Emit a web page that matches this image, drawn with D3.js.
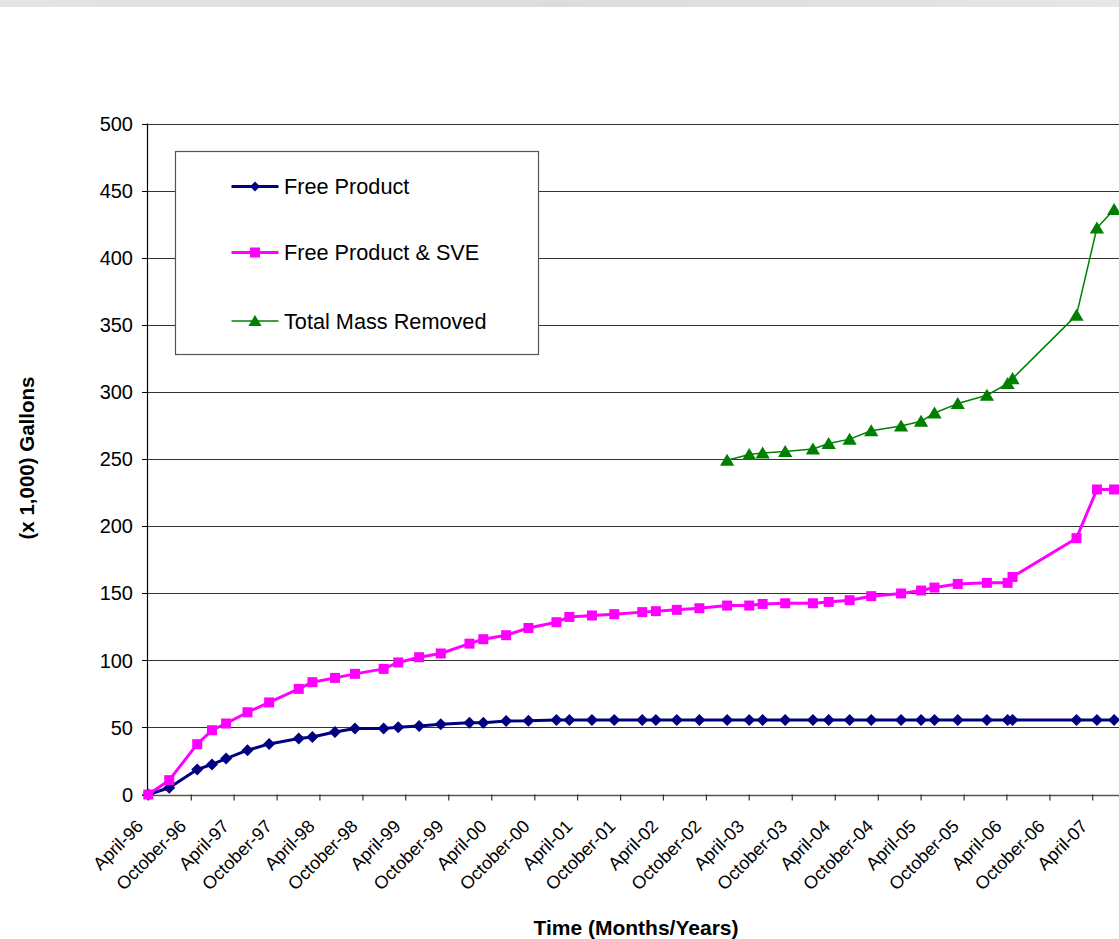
<!DOCTYPE html>
<html>
<head>
<meta charset="utf-8">
<script src="https://cdn.jsdelivr.net/npm/d3@7"></script>
<style>
  html, body { margin: 0; padding: 0; background: #ffffff; }
  svg { display: block; font-family: "Liberation Sans", Arial, sans-serif; }
</style>
</head>
<body>
<svg id="chart" width="1119" height="939"></svg>
<script>
// ---- data ----
const dates = [
  "1996-04-01","1996-06-29","1996-10-26","1996-12-28","1997-02-26","1997-05-28","1997-08-28",
  "1998-01-01","1998-02-28","1998-06-04","1998-08-28","1998-12-28","1999-02-28","1999-05-28",
  "1999-08-28","1999-12-28","2000-02-25","2000-06-01","2000-09-04","2001-01-01","2001-02-25",
  "2001-06-01","2001-09-04","2002-01-01","2002-02-28","2002-05-28","2002-09-01","2002-12-28",
  "2003-04-01","2003-05-28","2003-09-01","2003-12-28","2004-03-04","2004-06-01","2004-09-01",
  "2005-01-06","2005-04-01","2005-05-28","2005-09-04","2006-01-06","2006-04-04","2006-04-25",
  "2007-01-22","2007-04-19","2007-07-01"
];
const freeProduct = [
  0, 5, 18.6, 22.4, 26.8, 33, 37.7, 41.7, 42.9, 46.6, 49.2, 49.2, 50.1, 51.1, 52.4, 53.4,
  53.4, 54.8, 54.9, 55.6, 55.6, 55.6, 55.6, 55.6, 55.6, 55.6, 55.6, 55.6, 55.6, 55.6, 55.6,
  55.6, 55.6, 55.6, 55.6, 55.6, 55.6, 55.6, 55.6, 55.6, 55.6, 55.6, 55.6, 55.6, 55.6
];
const freeProductSVE = [
  0, 10.7, 37.5, 47.9, 52.9, 61.3, 68.6, 78.7, 83.7, 86.9, 89.9, 93.6, 98.4, 102.3, 105.1,
  112.4, 115.7, 118.7, 124.1, 128.4, 132.3, 133.4, 134.4, 135.9, 136.6, 137.6, 138.8, 140.8,
  140.8, 142, 142.5, 142.5, 143.5, 144.8, 147.8, 149.8, 152, 154.2, 156.9, 157.7, 157.7,
  162.1, 191, 227.3, 227.3
];
const totalMassRemoved = [
  null, null, null, null, null, null, null, null, null, null, null, null, null, null, null,
  null, null, null, null, null, null, null, null, null, null, null, null,
  249.1, 253.4, 254.5, 255.6, 257.5, 261.5, 264.8, 271, 274.6, 278.1, 284.3, 291.3, 297.5,
  306.2, 309.9, 357.2, 422.2, 435.9
];
const seriesNames = ["Free Product", "Free Product & SVE", "Total Mass Removed"];
const tickLabels = [
  "April-96","October-96","April-97","October-97","April-98","October-98","April-99",
  "October-99","April-00","October-00","April-01","October-01","April-02","October-02",
  "April-03","October-03","April-04","October-04","April-05","October-05","April-06",
  "October-06","April-07"
];
const yTicks = [0, 50, 100, 150, 200, 250, 300, 350, 400, 450, 500];

// ---- setup ----
const svg = d3.select("#chart");
const W = 1119, H = 939;
const parse = d3.timeParse("%Y-%m-%d");
const dateObjs = dates.map(parse);
const start = parse("1996-04-01");
const tickDates = tickLabels.map((_, i) => d3.timeMonth.offset(start, 6 * i));

const x = d3.scaleTime()
  .domain([start, tickDates[tickDates.length - 1]])
  .range([148.3, 1092.7]);
const y = d3.scaleLinear().domain([0, 500]).range([794.5, 123.5]);
const plotLeft = 148, plotRight = 1140;

// top decorative strip
const grad = svg.append("defs").append("linearGradient")
  .attr("id", "strip").attr("x1", 0).attr("x2", 1).attr("y1", 0).attr("y2", 0);
grad.append("stop").attr("offset", "0%").attr("stop-color", "#e4e4e6");
grad.append("stop").attr("offset", "50%").attr("stop-color", "#dcdcde");
grad.append("stop").attr("offset", "100%").attr("stop-color", "#e6e6e8");
svg.append("rect").attr("x", 0).attr("y", 0).attr("width", W).attr("height", 7)
  .attr("fill", "url(#strip)");

// gridlines
svg.append("g").selectAll("line")
  .data(yTicks.filter(d => d > 0))
  .join("line")
  .attr("x1", plotLeft).attr("x2", plotRight)
  .attr("y1", d => Math.round(y(d)) + 0.5).attr("y2", d => Math.round(y(d)) + 0.5)
  .attr("stroke", "#333333").attr("stroke-width", 1);

// y axis
const yAxis = svg.append("g");
yAxis.append("line")
  .attr("x1", plotLeft - 0.5).attr("x2", plotLeft - 0.5)
  .attr("y1", y(500)).attr("y2", y(0) + 1)
  .attr("stroke", "#000").attr("stroke-width", 1.2);
yAxis.selectAll("line.tick").data(yTicks).join("line").attr("class", "tick")
  .attr("x1", plotLeft - 6).attr("x2", plotLeft)
  .attr("y1", d => Math.round(y(d)) + 0.5).attr("y2", d => Math.round(y(d)) + 0.5)
  .attr("stroke", "#000");
yAxis.selectAll("text").data(yTicks).join("text")
  .attr("x", 133).attr("y", d => y(d))
  .attr("dy", "0.36em")
  .attr("text-anchor", "end")
  .attr("font-size", 20)
  .attr("fill", "#000")
  .text(d => d);

// x axis
const xAxis = svg.append("g");
xAxis.append("line")
  .attr("x1", plotLeft).attr("x2", plotRight)
  .attr("y1", Math.round(y(0)) + 0.5).attr("y2", Math.round(y(0)) + 0.5)
  .attr("stroke", "#555").attr("stroke-width", 1.5);
xAxis.selectAll("line.tick").data(tickDates).join("line").attr("class", "tick")
  .attr("x1", d => x(d)).attr("x2", d => x(d))
  .attr("y1", y(0)).attr("y2", y(0) + 6)
  .attr("stroke", "#333").attr("stroke-width", 1.2);
xAxis.selectAll("text").data(tickDates).join("text")
  .attr("transform", d => `translate(${x(d) - 4},${y(0) + 33}) rotate(-45)`)
  .attr("text-anchor", "end")
  .attr("font-size", 18)
  .attr("fill", "#000")
  .text((d, i) => tickLabels[i]);

// axis titles
svg.append("text")
  .attr("transform", `translate(34,458) rotate(-90)`)
  .attr("text-anchor", "middle")
  .attr("font-size", 20.5).attr("font-weight", "bold")
  .text("(x 1,000) Gallons");
svg.append("text")
  .attr("x", 636).attr("y", 935)
  .attr("text-anchor", "middle")
  .attr("font-size", 21).attr("font-weight", "bold")
  .text("Time (Months/Years)");

// markers
const diamond = r => `M0,${-r}L${r},0L0,${r}L${-r},0Z`;
const square = r => `M${-r},${-r}H${r}V${r}H${-r}Z`;
const triangle = r => `M0,${-r}L${r * 1.1},${r * 0.85}L${-r * 1.1},${r * 0.85}Z`;

const series = [
  { name: seriesNames[0], values: freeProduct, color: "#000080", width: 3, marker: diamond, r: 6, lr: 5 },
  { name: seriesNames[1], values: freeProductSVE, color: "#ff00ff", width: 3, marker: square, r: 5, lr: 5 },
  { name: seriesNames[2], values: totalMassRemoved, color: "#008000", width: 1.5, marker: triangle, r: 6.5, lr: 6 }
];

const line = d3.line()
  .defined(d => d.v != null)
  .x(d => x(d.date)).y(d => y(d.v));

series.forEach(s => {
  const pts = s.values.map((v, i) => ({ date: dateObjs[i], v }));
  const g = svg.append("g");
  g.append("path").datum(pts)
    .attr("d", line)
    .attr("fill", "none")
    .attr("stroke", s.color)
    .attr("stroke-width", s.width)
    .attr("stroke-linejoin", "round");
  g.selectAll("path.m").data(pts.filter(p => p.v != null)).join("path").attr("class", "m")
    .attr("transform", p => `translate(${x(p.date)},${y(p.v)})`)
    .attr("d", s.marker(s.r))
    .attr("fill", s.color);
});

// legend
const lg = svg.append("g");
lg.append("rect")
  .attr("x", 175.5).attr("y", 151.5).attr("width", 363).attr("height", 203)
  .attr("fill", "#fff").attr("stroke", "#555").attr("stroke-width", 1.2);
const rowsY = [186.5, 252.5, 321];
series.forEach((s, i) => {
  lg.append("line")
    .attr("x1", 231.5).attr("x2", 278.5)
    .attr("y1", rowsY[i]).attr("y2", rowsY[i])
    .attr("stroke", s.color).attr("stroke-width", s.width);
  lg.append("path")
    .attr("transform", `translate(255,${rowsY[i]})`)
    .attr("d", s.marker(s.lr))
    .attr("fill", s.color);
  lg.append("text")
    .attr("x", 284).attr("y", rowsY[i])
    .attr("dy", "0.36em")
    .attr("font-size", 21.7)
    .attr("fill", "#000")
    .text(s.name);
});
</script>
</body>
</html>
